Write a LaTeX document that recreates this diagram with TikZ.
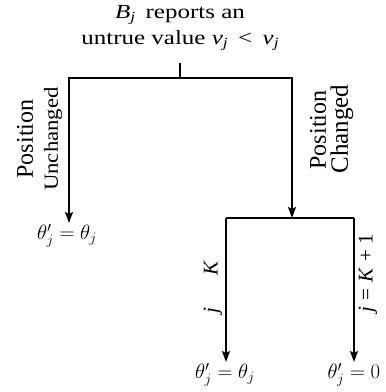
\documentclass[tikz,border=0pt]{standalone}
\usepackage{fontspec}
\setmainfont{Liberation Serif}
\usetikzlibrary{arrows.meta}

\tikzset{
  branch/.style={line width=1.4pt},
  down/.style={branch, -{Stealth[length=11pt,width=8pt,inset=2pt]}},
  side/.style={inner sep=0pt, rotate=90},
  result/.style={inner sep=1pt, anchor=north, font=\fontsize{22}{24}\selectfont},
}
\newcommand{\iv}[2]{\textit{#1}\raisebox{-0.35ex}{\fontsize{14}{14}\selectfont\textit{#2}}}
\newcommand{\wide}[1]{\scalebox{1.25}[1]{#1}}

\begin{document}
\begin{tikzpicture}[x=1pt,y=-1pt]
  \useasboundingbox (0,0) rectangle (386,392);

  % root question
  \node[align=center, font=\fontsize{20}{26}\selectfont] (root) at (180,28)
    {\wide{\iv{B}{j}\, reports an}\\ \wide{untrue value \iv{v}{j}\, < \,\iv{v}{j}}};
  \coordinate (stem) at (180,63);
  \coordinate (top) at (180,78);
  \coordinate (tl) at (69,78);
  \coordinate (tr) at (292,78);
  \draw[branch] (stem) -- (top);

  % first split
  \node[result] (same) at (67,223) {$\theta'_j = \theta_j$};
  \draw[down] (top) -- (tl) -- (same.north -| tl);
  \coordinate (split) at (292,218);
  \draw[down] (top) -- (tr) -- (split);
  \node[side, font=\fontsize{24}{24}\selectfont] (posl) at (25,139) {Position};
  \node[side, font=\fontsize{20}{20}\selectfont] (unch) at (53,139) {\scalebox{1.14}[1]{Unchanged}};
  \node[side, font=\fontsize{24}{24}\selectfont] (posr) at (318,130) {Position};
  \node[side, font=\fontsize{25}{25}\selectfont] (chg) at (342,129) {Changed};

  % second split
  \coordinate (bl) at (226,218);
  \coordinate (br) at (354,218);
  \node[result] (keep) at (225,362) {$\theta'_j = \theta_j$};
  \node[result] (zero) at (354,362) {$\theta'_j = 0$};
  \draw[branch] (bl) -- (br);
  \draw[down] (bl) -- (keep.north -| bl);
  \draw[down] (br) -- (zero.north -| br);
  \node[side, font=\fontsize{21}{21}\selectfont] (low) at (213,287) {\textit{j}\hspace{32pt}\textit{K}};
  \node[side, font=\fontsize{21}{21}\selectfont] (high) at (368,273) {\textit{j}\hspace{6pt}=\hspace{6pt}\textit{K}\hspace{6pt}+\hspace{6pt}1};
\end{tikzpicture}
\end{document}
